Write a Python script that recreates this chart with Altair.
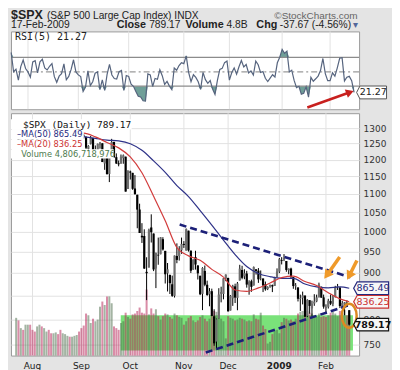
import altair as alt
import pandas as pd

# ---------------- values ----------------
OPEN = [1277.0, 1282.2, 1252.5, 1257.8, 1234.4, 1263.2, 1284.3, 1267.4, 1260.3, 1249.0,
 1284.9, 1289.2, 1266.1, 1296.3, 1305.3, 1289.6, 1285.8, 1293.0, 1298.1, 1278.6,
 1267.3, 1271.1, 1277.6, 1292.2, 1267.0, 1271.3, 1283.8, 1296.5, 1287.8, 1276.6,
 1271.8, 1233.2, 1249.5, 1267.9, 1227.5, 1229.0, 1245.9, 1250.9, 1188.3, 1210.3,
 1157.1, 1213.1, 1255.4, 1207.6, 1188.8, 1187.9, 1204.5, 1209.1, 1113.8, 1164.2,
 1160.4, 1115.2, 1097.6, 1057.0, 988.9, 988.4, 902.3, 912.3, 1010.0, 994.6,
 910.0, 942.3, 943.5, 980.4, 951.7, 899.1, 895.2, 874.3, 848.9, 939.5,
 939.4, 953.1, 968.7, 952.4, 1001.8, 952.3, 907.4, 936.8, 917.2, 893.4,
 853.1, 904.4, 873.2, 852.3, 859.0, 805.9, 755.8, 801.2, 853.4, 852.9,
 886.9, 888.6, 817.9, 843.6, 869.7, 844.4, 882.7, 906.5, 892.2, 898.4,
 871.8, 881.1, 871.5, 908.2, 905.0, 887.0, 887.2, 874.3, 863.9, 869.5,
 872.4, 870.6, 890.6, 903.0, 929.2, 931.2, 927.5, 905.7, 909.9, 890.4,
 869.8, 867.3, 842.0, 844.5, 849.6, 806.8, 839.7, 822.2, 832.5, 837.0,
 845.7, 868.9, 845.7, 823.1, 825.7, 837.8, 831.8, 846.1, 868.2, 866.9,
 827.4, 829.9, 834.0, 818.6]
HIGH = [1291.2, 1283.0, 1263.2, 1260.1, 1264.0, 1284.9, 1284.3, 1267.4, 1260.3, 1285.5,
 1291.7, 1289.2, 1297.9, 1313.2, 1309.0, 1294.2, 1300.8, 1302.0, 1300.2, 1280.6,
 1276.0, 1281.6, 1293.1, 1292.2, 1275.7, 1289.6, 1300.7, 1296.5, 1303.0, 1280.6,
 1271.8, 1244.9, 1274.4, 1268.7, 1243.9, 1250.0, 1255.1, 1250.9, 1214.8, 1210.3,
 1211.1, 1265.1, 1255.4, 1219.2, 1197.4, 1215.8, 1215.8, 1209.1, 1168.0, 1167.0,
 1160.4, 1153.8, 1097.6, 1072.9, 1021.1, 1005.3, 936.4, 1006.9, 1044.3, 994.6,
 947.7, 984.4, 985.4, 985.4, 951.7, 922.8, 896.1, 893.8, 940.5, 970.0,
 963.2, 984.4, 975.6, 1007.5, 1001.8, 952.3, 931.5, 952.0, 917.2, 893.4,
 913.0, 916.9, 882.3, 865.9, 864.6, 820.5, 801.2, 865.6, 868.9, 887.7,
 896.3, 888.6, 850.5, 873.1, 875.6, 879.4, 918.6, 916.3, 908.3, 904.6,
 883.2, 884.6, 914.7, 908.2, 911.0, 905.5, 887.4, 880.4, 869.8, 873.7,
 873.7, 891.1, 910.3, 934.7, 936.6, 943.9, 927.5, 910.0, 911.9, 890.4,
 877.0, 867.3, 851.6, 858.1, 849.6, 841.7, 839.7, 838.6, 852.5, 851.5,
 877.9, 868.9, 851.7, 830.8, 842.6, 851.9, 850.6, 870.8, 875.0, 868.1,
 838.2, 835.5, 839.4, 818.6]
LOW = [1276.0, 1251.5, 1251.5, 1234.4, 1234.4, 1263.2, 1263.2, 1247.0, 1247.5, 1249.0,
 1276.0, 1260.7, 1262.1, 1294.8, 1289.5, 1274.9, 1276.0, 1290.7, 1274.5, 1264.9,
 1261.2, 1265.2, 1277.6, 1264.1, 1263.2, 1271.1, 1283.8, 1279.6, 1272.2, 1265.6,
 1232.8, 1217.2, 1247.1, 1224.5, 1221.6, 1211.5, 1233.8, 1192.7, 1169.3, 1155.9,
 1133.5, 1213.1, 1205.6, 1187.1, 1179.8, 1187.9, 1187.5, 1106.4, 1113.8, 1140.8,
 1111.4, 1098.1, 1008.0, 996.2, 971.0, 909.2, 839.8, 912.3, 972.1, 904.0,
 865.8, 918.7, 943.5, 952.5, 876.0, 858.4, 852.9, 846.8, 845.3, 922.3,
 928.5, 944.6, 958.8, 952.4, 949.9, 899.7, 906.9, 907.5, 884.9, 850.5,
 818.7, 869.9, 849.0, 826.8, 806.2, 747.8, 741.0, 801.2, 835.0, 841.4,
 881.2, 815.7, 817.9, 827.6, 833.6, 818.4, 882.7, 885.4, 885.5, 866.8,
 851.4, 857.7, 871.5, 896.0, 877.4, 883.0, 857.1, 860.1, 861.4, 866.5,
 857.1, 870.6, 889.4, 899.4, 919.5, 927.3, 902.4, 896.8, 888.3, 864.3,
 862.0, 836.9, 817.0, 830.7, 804.5, 804.3, 811.3, 806.1, 827.7, 835.3,
 845.7, 844.7, 821.7, 812.9, 822.0, 829.2, 826.8, 845.4, 861.7, 823.0,
 822.1, 808.1, 825.2, 787.5]
CLOSE = [1282.2, 1252.5, 1257.8, 1234.4, 1263.2, 1284.3, 1267.4, 1260.3, 1249.0, 1284.9,
 1289.2, 1266.1, 1296.3, 1305.3, 1289.6, 1285.8, 1292.9, 1298.2, 1278.6, 1266.7,
 1274.5, 1277.7, 1292.2, 1266.8, 1271.5, 1281.7, 1300.7, 1282.8, 1277.6, 1275.0,
 1236.8, 1242.3, 1267.8, 1224.5, 1232.0, 1249.1, 1251.7, 1192.7, 1213.6, 1156.4,
 1206.5, 1255.1, 1207.1, 1188.2, 1185.9, 1209.2, 1213.3, 1106.4, 1166.4, 1161.1,
 1114.3, 1099.2, 1056.9, 996.2, 984.9, 909.9, 899.2, 1003.4, 998.0, 907.8,
 946.4, 940.6, 985.4, 955.1, 896.8, 908.1, 876.8, 848.9, 940.5, 930.1,
 954.1, 968.8, 966.3, 1005.8, 952.8, 904.9, 931.0, 919.2, 899.0, 852.3,
 911.3, 873.3, 850.8, 859.1, 806.6, 752.4, 800.0, 851.8, 857.4, 887.7,
 896.2, 816.2, 848.8, 870.7, 845.2, 876.1, 909.7, 888.7, 899.2, 873.6,
 879.7, 868.6, 913.2, 904.4, 885.3, 887.9, 871.6, 863.2, 868.2, 872.8,
 869.4, 890.6, 903.3, 931.8, 927.5, 934.7, 906.7, 909.7, 890.4, 870.3,
 871.8, 842.6, 843.7, 850.1, 805.2, 840.2, 827.5, 832.0, 836.6, 845.7,
 874.1, 845.1, 825.9, 825.4, 838.5, 832.2, 845.9, 868.6, 869.9, 827.2,
 833.7, 835.2, 826.8, 789.17]
PREV_CLOSE0 = 1277.0
VOLUME_B = [4.4, 4.1, 3.2, 3.0, 3.6, 3.6, 3.6, 3.0, 2.8, 3.4,
 3.6, 3.4, 3.2, 2.8, 3.0, 2.6, 2.6, 2.7, 2.5, 3.0,
 2.6, 2.5, 2.3, 2.2, 2.2, 2.3, 2.4, 2.8, 3.2, 3.5,
 4.9, 4.7, 3.8, 4.3, 4.0, 4.2, 5.7, 6.3, 5.9, 6.9,
 6.9, 6.1, 3.4, 3.2, 3.0, 3.8, 4.0, 5.0, 4.5, 4.3,
 4.8, 4.9, 5.2, 5.6, 5.0, 4.9, 7.7, 4.8, 5.5, 4.9,
 5.4, 4.6, 4.2, 4.6, 4.9, 4.8, 4.5, 4.3, 4.9, 4.7,
 4.5, 4.4, 3.6, 4.0, 4.4, 4.6, 4.1, 3.9, 4.1, 4.5,
 4.7, 4.3, 4.0, 4.3, 4.6, 5.2, 5.1, 4.4, 4.3, 4.0,
 2.0, 4.6, 4.4, 4.3, 4.1, 4.2, 4.4, 4.3, 4.2, 4.0,
 4.1, 4.0, 4.8, 4.3, 4.2, 5.0, 3.5, 3.1, 1.4, 1.6,
 2.5, 2.9, 3.0, 2.6, 3.9, 4.4, 4.3, 4.1, 4.2, 4.0,
 4.3, 4.9, 5.1, 5.2, 5.0, 5.2, 5.0, 4.9, 4.6, 4.5,
 4.9, 4.5, 4.6, 4.5, 4.7, 5.0, 5.1, 4.9, 4.6, 5.2,
 4.9, 5.3, 4.7, 4.8]
RSI5 = [76.9, 50.1, 53.6, 38.3, 57.2, 66.5, 54.6, 49.9, 42.6, 63.7,
 65.6, 48.6, 63.9, 67.5, 55.4, 52.6, 57.7, 61.5, 43.3, 35.4,
 43.9, 47.4, 61.1, 38.9, 43.6, 53.4, 66.8, 49.9, 45.7, 43.4,
 22.6, 28.7, 51.2, 30.7, 36.2, 48.0, 49.8, 25.3, 38.7, 24.0,
 46.3, 60.4, 45.6, 40.7, 40.0, 50.2, 52.0, 24.0, 44.8, 43.5,
 32.8, 29.9, 22.7, 15.9, 14.9, 9.6, 9.1, 47.1, 45.8, 29.6,
 40.8, 39.6, 52.9, 44.6, 32.4, 36.6, 30.1, 25.2, 55.3, 52.3,
 58.8, 62.6, 61.4, 72.2, 49.2, 36.2, 45.9, 42.3, 36.1, 25.5,
 49.2, 39.1, 34.0, 37.8, 26.0, 18.6, 38.1, 53.3, 54.8, 62.8,
 65.0, 38.4, 49.0, 55.5, 46.8, 57.0, 65.8, 56.7, 60.2, 48.4,
 51.3, 45.5, 65.0, 59.8, 49.0, 50.5, 41.0, 36.5, 41.2, 45.9,
 42.8, 62.6, 70.3, 81.2, 75.9, 78.8, 49.9, 52.3, 38.0, 28.0,
 29.8, 18.8, 20.2, 29.0, 14.8, 42.3, 36.9, 40.3, 44.1, 51.8,
 68.6, 47.5, 37.8, 37.6, 48.6, 44.0, 55.5, 68.9, 69.6, 37.3,
 42.4, 43.7, 37.7, 21.27]
MA_IDX = [4, 9, 14, 19, 24, 29, 34, 39, 44, 49, 54, 59, 64, 69, 74, 79, 84, 89, 94, 99,
 104, 109, 114, 119, 124, 129, 134, 139, 143]
MA20 = [1255.5, 1256.0, 1269.3, 1275.3, 1279.9, 1283.5, 1271.3, 1253.4, 1236.4, 1208.3,
 1160.7, 1093.5, 1027.5, 959.9, 939.7, 929.1, 908.0, 890.2, 861.7, 858.8,
 866.3, 877.0, 889.2, 892.4, 880.6, 871.5, 855.8, 842.4, 836.25]
MA50 = [1317.1, 1304.0, 1293.7, 1284.5, 1277.1, 1272.1, 1266.6, 1261.1, 1258.4, 1249.4,
 1228.7, 1196.1, 1161.7, 1123.3, 1092.6, 1054.4, 1016.3, 978.1, 942.7, 914.6,
 898.5, 891.4, 887.4, 887.6, 874.9, 868.4, 866.5, 868.4, 865.49]
MONTH_IDX = [7, 28, 49, 72, 91, 113, 133]
MONTH_LBL = ["Aug", "Sep", "Oct", "Nov", "Dec", "2009", "Feb"]
PRICE_TICKS = [750, 800, 850, 900, 950, 1000, 1050, 1100, 1150, 1200, 1250, 1300]
RSI_TICKS = [10, 30, 50, 70, 90]
RSI_LEVELS = [30, 70]

# annotations drawn on the picture (data coordinates)
TREND_ID = ["upper", "upper", "lower", "lower"]
TREND_I = [70.2, 143.5, 81.4, 143.4]
TREND_P = [1017.5, 890.0, 735.0, 830.0]
OARROW_I0 = [138.9, 146.3]
OARROW_P0 = [937.2, 928.9]
OARROW_I1 = [133.4, 143.0]
OARROW_P1 = [894.8, 893.2]
OARROW_ANG = [216, 208]
CIRCLE_I = [143.0]
CIRCLE_P = [807.0]
GREEN_I = [44.9, 144.6]
GREEN_P = [739.0, 808.0]
RARROW_I = [123.5, 141.3]
RARROW_R = [0.3, 21.5]
RARROW_ANG = 70
BOX_VALS = [865.49, 836.25, 789.17]
BOX_TXT = ["865.49", "836.25", "789.17"]
BOX_COL = ["#25297e", "#cc3333", "#111111"]

# ---------------- styling ----------------
W, H_RSI, H_PX = 349, 78, 243
FONT = "DejaVu Sans"
NAVY = "#1c2078"
ORANGE = "#ef9a2a"
GRID = "#e2e2e2"

xs = alt.Scale(domain=[-0.08, 145.09], nice=False, zero=False)
rsi_scale = alt.Scale(domain=[-2.1, 106.3], nice=False, zero=False)
px_scale = alt.Scale(type="log", domain=[729.4, 1350.3], nice=False, zero=False)
vol_scale = alt.Scale(domain=[0, 28.26], nice=False)


def X(f="i"):
    return alt.X(f"{f}:Q", scale=xs, axis=None)


def RY(f, axis=None):
    return alt.Y(f"{f}:Q", scale=rsi_scale, axis=axis)


def PY(f, axis=None):
    return alt.Y(f"{f}:Q", scale=px_scale, axis=axis)


def label(text, x, y, size, color="#222", font="Liberation Sans", weight="normal",
          align="left", baseline="alphabetic"):
    return alt.Chart(pd.DataFrame({"t": [text]})).mark_text(
        align=align, baseline=baseline, font=font, fontSize=size,
        fontWeight=weight, color=color
    ).encode(x=alt.value(x), y=alt.value(y), text="t:N")


def prect(x0, x1, y0, y1, color="white", opacity=1):
    return alt.Chart(pd.DataFrame({"a": [0]})).mark_rect(color=color, opacity=opacity).encode(
        x=alt.value(x0), x2=alt.value(x1), y=alt.value(y0), y2=alt.value(y1))


n = len(CLOSE)
prev = [PREV_CLOSE0] + CLOSE[:-1]
df = pd.DataFrame({
    "i": list(range(n)), "o": OPEN, "h": HIGH, "l": LOW, "c": CLOSE,
    "v": VOLUME_B, "rsi": RSI5,
    "down": [c < o for c, o in zip(CLOSE, OPEN)],
    "vdown": [c < p for c, p in zip(CLOSE, prev)],
})
mdf = pd.DataFrame({"i": MONTH_IDX, "lbl": MONTH_LBL})
vgrid = alt.Chart(mdf).mark_rule(color=GRID, strokeWidth=1).encode(x=X())

# ---------------- RSI panel ----------------
rsi_axis = alt.Axis(orient="right", values=RSI_TICKS, grid=True, gridColor=GRID,
                    ticks=False, domain=False, labelFont=FONT, labelFontSize=9,
                    labelColor="#333", labelPadding=4, title=None, format="d")
base = alt.Chart(df)
hi_area = base.transform_calculate(hi="max(datum.rsi, 70)", b="70").mark_area(
    color="#6f9f98").encode(x=X(), y=RY("hi"), y2="b:Q")
lo_area = base.transform_calculate(lo="min(datum.rsi, 30)", b="30").mark_area(
    color="#6f9f98").encode(x=X(), y=RY("lo"), y2="b:Q")
lvl = alt.Chart(pd.DataFrame({"y": RSI_LEVELS})).mark_rule(
    color="#8c8c8c", strokeWidth=1.3).encode(y=RY("y"))
mid = alt.Chart(pd.DataFrame({"y": [50]})).mark_rule(
    color="#9a9a9a", strokeWidth=1.2, strokeDash=[6, 3, 2, 3]).encode(y=RY("y"))
rsi_line = base.mark_line(color="#56647e", strokeWidth=1.2).encode(
    x=X(), y=RY("rsi", rsi_axis))
ra = pd.DataFrame({"i": [RARROW_I[0]], "r": [RARROW_R[0]], "i2": [RARROW_I[1]],
                   "r2": [RARROW_R[1]], "ang": [RARROW_ANG]})
ra_shaft = alt.Chart(ra).mark_rule(color="#c8201e", strokeWidth=2.6).encode(
    x=X("i"), y=RY("r"), x2="i2:Q", y2="r2:Q")
ra_head = alt.Chart(ra).mark_point(shape="triangle-up", filled=True, color="#c8201e",
                                   size=80, opacity=1).encode(
    x=X("i2"), y=RY("r2"), angle=alt.Angle("ang:Q", scale=None))
rbox_df = pd.DataFrame({"i": [150.3], "r": [RSI5[-1]], "t": [f"{RSI5[-1]:.2f}"], "ti": [151.0]})
rbox = alt.Chart(rbox_df).mark_point(
    shape="M -1 0 L -0.78 -0.43 L 1 -0.43 L 1 0.43 L -0.78 0.43 Z", size=900,
    fill="#ffffff", stroke="#555555", strokeWidth=1, opacity=1, filled=True).encode(
    x=X("i"), y=RY("r"))
rbox_t = alt.Chart(rbox_df).mark_text(font=FONT, fontSize=9.5, color="#222").encode(
    x=X("ti"), y=RY("r"), text="t:N")

header = [
    label("$SPX", 0, -12, 12.5, weight="bold"),
    label("(S&P 500 Large Cap Index) INDX", 36, -12, 10.2),
    label("\u00a9StockCharts.com", 264, -12, 10, color="#666"),
    label("17-Feb-2009", 0, -3, 10.3),
    label("Close", 106, -3, 10.8, weight="bold"),
    label("789.17", 138.5, -3, 10.3),
    label("Volume", 175, -3, 10.8, weight="bold"),
    label("4.8B", 216, -3, 10.3),
    label("Chg", 246, -3, 10.8, weight="bold"),
    label("-37.67 (-4.56%)", 269.5, -3, 10.3),
    label("\u25be", 343, -3, 10, color="#52679a", font=FONT),
]
rsi_leg = label(f"RSI(5) {RSI5[-1]:.2f}", 4, 8.5, 10, font="DejaVu Sans Mono")

rsi_chart = alt.layer(
    vgrid, hi_area, lo_area, lvl, mid, rsi_line, ra_shaft, ra_head, rbox, rbox_t,
    rsi_leg, *header
).properties(width=W, height=H_RSI)

# ---------------- price panel ----------------
px_axis = alt.Axis(orient="right", values=PRICE_TICKS, grid=True, gridColor=GRID,
                   ticks=False, domain=False, labelFont=FONT, labelFontSize=9,
                   labelColor="#333", labelPadding=4, title=None, format="d")
green = alt.Chart(pd.DataFrame({"i0": [GREEN_I[0]], "i1": [GREEN_I[1]],
                                "p0": [GREEN_P[0]], "p1": [GREEN_P[1]]})).mark_rect(
    color="#7ae27a").encode(x=X("i0"), x2="i1:Q", y=PY("p0"), y2="p1:Q")
vol = base.mark_bar(size=2, opacity=0.5).encode(
    x=X(), y=alt.Y("v:Q", scale=vol_scale, axis=None),
    color=alt.condition("datum.vdown", alt.value("#b31a50"), alt.value("#4a6a48")))
wick = base.mark_rule(color="#000000", strokeWidth=1).encode(
    x=X(), y=PY("l", px_axis), y2="h:Q")
body = base.mark_bar(size=2.2).encode(
    x=X(), y=PY("o"), y2="c:Q",
    color=alt.condition("datum.down", alt.value("#000000"), alt.value("#6e6e6e")))
madf = pd.DataFrame({"i": MA_IDX, "ma20": MA20, "ma50": MA50})
ma50 = alt.Chart(madf).mark_line(color="#2e3288", strokeWidth=1.2, interpolate="monotone").encode(
    x=X(), y=PY("ma50"))
ma20 = alt.Chart(madf).mark_line(color="#d23c3c", strokeWidth=1.2, interpolate="monotone").encode(
    x=X(), y=PY("ma20"))
trend = alt.Chart(pd.DataFrame({"id": TREND_ID, "i": TREND_I, "p": TREND_P})).mark_line(
    color=NAVY, strokeWidth=2.6, strokeDash=[7, 4]).encode(x=X(), y=PY("p"), detail="id:N")
oa = pd.DataFrame({"i0": OARROW_I0, "p0": OARROW_P0, "i1": OARROW_I1, "p1": OARROW_P1,
                   "ang": OARROW_ANG})
oa_shaft = alt.Chart(oa).mark_rule(color=ORANGE, strokeWidth=3.5).encode(
    x=X("i0"), y=PY("p0"), x2="i1:Q", y2="p1:Q")
oa_head = alt.Chart(oa).mark_point(shape="triangle-up", filled=True, color=ORANGE,
                                   size=110, opacity=1).encode(
    x=X("i1"), y=PY("p1"), angle=alt.Angle("ang:Q", scale=None))
ELLIPSE = ("M 0.62 0 C 0.62 0.55 0.34 1 0 1 C -0.34 1 -0.62 0.55 -0.62 0 "
           "C -0.62 -0.55 -0.34 -1 0 -1 C 0.34 -1 0.62 -0.55 0.62 0 Z")
circ = alt.Chart(pd.DataFrame({"i": CIRCLE_I, "p": CIRCLE_P})).mark_point(
    shape=ELLIPSE, size=576, filled=False, stroke="#dd8a22", strokeWidth=2.5,
    opacity=1).encode(x=X(), y=PY("p"))

legend_bg = [prect(0, 121, 6, 16.3), prect(0, 73, 16.3, 26.3),
             prect(0, 74, 26.3, 36.2), prect(0, 103, 36.2, 45.5)]
legend_txt = [
    label(f"$SPX (Daily) {CLOSE[-1]:.2f}", 12, 14.7, 9.5, color="#111", font="DejaVu Sans Mono"),
    label(f"\u2013MA(50) {MA50[-1]:.2f}", 6, 24.3, 8.3, color="#25297e", font=FONT),
    label(f"\u2013MA(20) {MA20[-1]:.2f}", 6, 34.3, 8.3, color="#cc3333", font=FONT),
    label("Volume 4,806,718,976", 10.3, 43.6, 8.3, color="#4d7a4d", font=FONT),
]
bdf = pd.DataFrame({"i": [152.4] * 3, "ti": [153.2] * 3, "p": BOX_VALS, "t": BOX_TXT,
                    "col": BOX_COL})
boxes = alt.Chart(bdf).mark_point(
    shape="M -1 0 L -0.8 -0.36 L 1 -0.36 L 1 0.36 L -0.8 0.36 Z", size=1225,
    fill="#f7f7f7", strokeWidth=1.2, opacity=1, filled=True).encode(
    x=X(), y=PY("p"), stroke=alt.Stroke("col:N", scale=None))
box_txt = alt.Chart(bdf).transform_filter("datum.t != '789.17'").mark_text(
    font=FONT, fontSize=9.5).encode(
    x=X("ti"), y=PY("p"), text="t:N", color=alt.Color("col:N", scale=None))
box_txt_b = alt.Chart(bdf).transform_filter("datum.t == '789.17'").mark_text(
    font=FONT, fontSize=9.5, fontWeight="bold").encode(
    x=X("ti"), y=PY("p"), text="t:N", color=alt.Color("col:N", scale=None))
mlab = alt.Chart(mdf).transform_filter("datum.lbl != '2009'").mark_text(
    font=FONT, fontSize=9, color="#222").encode(x=X(), y=alt.value(253), text="lbl:N")
mlab_b = alt.Chart(mdf).transform_filter("datum.lbl == '2009'").mark_text(
    font=FONT, fontSize=9, fontWeight="bold", color="#222").encode(
    x=X(), y=alt.value(253), text="lbl:N")
bottom_pad = prect(0, 10, 256, 259, color="#e4e4e4", opacity=0)

price_chart = alt.layer(
    vgrid, green, vol, wick, body, ma50, ma20, trend, oa_shaft, oa_head, circ,
    *legend_bg, *legend_txt, boxes, box_txt, box_txt_b, mlab, mlab_b, bottom_pad
).resolve_scale(y="independent").properties(width=W, height=H_PX)

chart = alt.vconcat(rsi_chart, price_chart, spacing=2).properties(
    padding=0
).configure(background="#e4e4e4").configure_view(
    fill="white", stroke="#9c9c9c", strokeWidth=1)

chart.save("out.html", embed_options={"renderer": "svg", "actions": False})
